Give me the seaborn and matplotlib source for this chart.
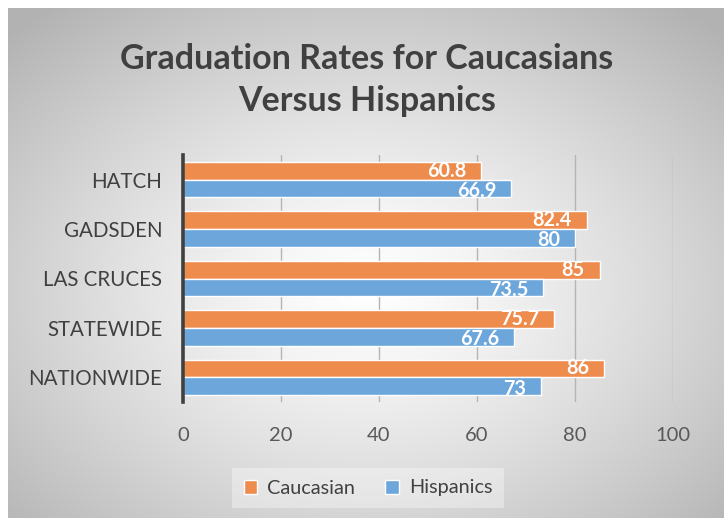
import numpy as np
import pandas as pd
import matplotlib
matplotlib.use("Agg")
import matplotlib.pyplot as plt
import seaborn as sns

categories = ["HATCH", "GADSDEN", "LAS CRUCES", "STATEWIDE", "NATIONWIDE"]
caucasian = [60.8, 82.4, 85, 75.7, 86]
hispanics = [66.9, 80, 73.5, 67.6, 73]
series_names = ["Caucasian", "Hispanics"]
xticks = [0, 20, 40, 60, 80, 100]
title = "Graduation Rates for Caucasians\nVersus Hispanics"

df = pd.DataFrame({
    "category": categories * 2,
    "value": caucasian + hispanics,
    "series": [series_names[0]] * len(categories) + [series_names[1]] * len(categories),
})

sns.set_theme(style="white")
plt.rcParams["font.family"] = ["Lato", "DejaVu Sans"]

W, H = 724, 518
fig = plt.figure(figsize=(W / 100, H / 100), dpi=100, facecolor="white")

# background panel with radial gradient
bg = fig.add_axes([8 / W, 0, 1 - 8 / W, 1 - 8 / H], zorder=-10)
ny, nx = 300, 420
yy, xx = np.mgrid[0:ny, 0:nx]
cx, cy = nx * 0.50, ny * 0.55
r = np.sqrt(((xx - cx) / (nx / 2)) ** 2 + ((yy - cy) / (ny / 2)) ** 2) / np.sqrt(2)
v = 1.0 - 0.30 * np.clip(r, 0, 1) ** 1.3
img = np.dstack([v, v, v])
bg.imshow(img, aspect="auto", extent=[0, 1, 0, 1], interpolation="bilinear")
bg.set_axis_off()

ax = fig.add_axes([183 / W, 1 - 402 / H, 490 / W, 247 / H])
ax.set_facecolor("none")

palette = {"Caucasian": "#EE8C4E", "Hispanics": "#6CA6DB"}
sns.barplot(data=df, y="category", x="value", hue="series", orient="h",
            palette=palette, width=0.72, gap=0, edgecolor="white", linewidth=1.0,
            saturation=1, ax=ax, legend=True, zorder=3)

ax.set_xlim(0, 100)
ax.set_ylim(4.5, -0.5)
ax.set_xticks(xticks)
ax.set_xticklabels([str(t) for t in xticks])
ax.set_xlabel("")
ax.set_ylabel("")
for x in xticks[1:]:
    ax.axvline(x, color="#b4b4b4", lw=1.0, zorder=1)

for s in ["top", "right", "bottom"]:
    ax.spines[s].set_visible(False)
ax.spines["left"].set_color("#404040")
ax.spines["left"].set_linewidth(2.6)
ax.spines["left"].set_zorder(5)

ax.tick_params(axis="x", length=0, pad=18, labelsize=14.5, labelcolor="#595959")
ax.tick_params(axis="y", length=0, pad=15, labelsize=14.8, labelcolor="#404040")

offsets = [0.0, 0.05]
for container, off in zip(ax.containers, offsets):
    for bar in container:
        w = bar.get_width()
        yc = bar.get_y() + bar.get_height() / 2
        ax.text(w - 3.0, yc + off, f"{w:g}", ha="right", va="center",
                color="white", fontsize=14.3, fontweight="bold", zorder=6)

leg = ax.legend(loc="center", bbox_to_anchor=(368 / W, 1 - 488 / H),
                bbox_transform=fig.transFigure, ncol=2, frameon=True,
                fontsize=14.3, handlelength=0.7, handleheight=0.7,
                handletextpad=0.5, columnspacing=1.5, borderpad=0.6)
leg.get_frame().set_facecolor("white")
leg.get_frame().set_alpha(0.35)
leg.get_frame().set_edgecolor("none")
leg.get_frame().set_boxstyle("square", pad=0.0)
for t in leg.get_texts():
    t.set_color("#404040")

fig.text(367 / W, 1 - 80 / H, title, ha="center", va="center", fontsize=24.5,
         fontweight="bold", color="#404040", linespacing=1.42)

fig.savefig("out.png", dpi=100, facecolor="white")
